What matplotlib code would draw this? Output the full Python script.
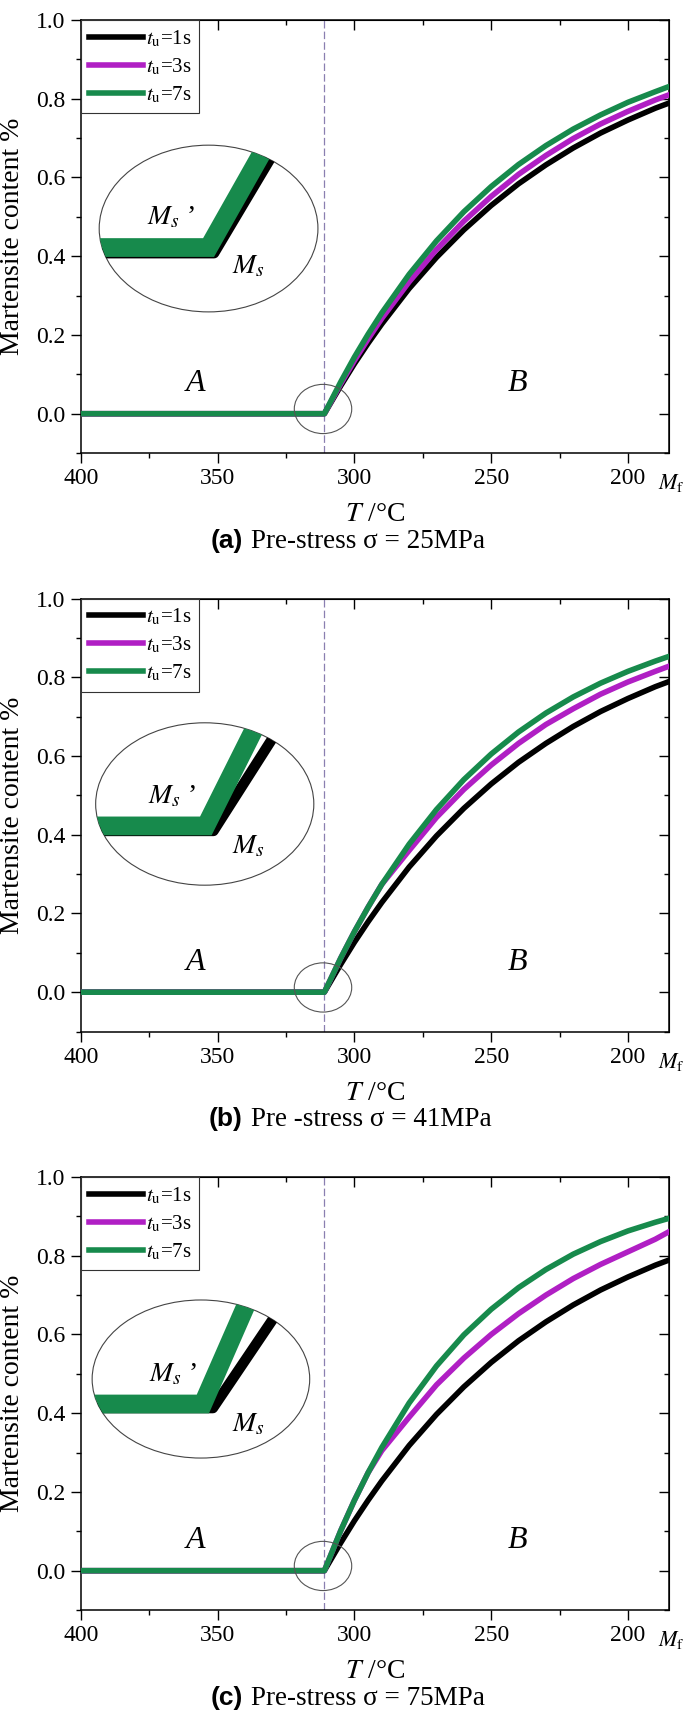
import numpy as np
import matplotlib
matplotlib.use("Agg")
import matplotlib.pyplot as plt
from matplotlib.patches import Ellipse
from matplotlib.ticker import MultipleLocator, FormatStrFormatter

plt.rcParams['font.family'] = 'serif'
plt.rcParams['font.serif'] = ['Liberation Serif', 'DejaVu Serif']
plt.rcParams['mathtext.fontset'] = 'stix'

# temperature grid (deg C) and martensite fraction
temps = [400, 311, 305, 300, 295, 290, 280, 270, 260, 250, 240, 230, 220, 210, 200, 190, 185]
ms_temp = 311

frac_1s = [0, 0, 0.071, 0.127, 0.179, 0.228, 0.318, 0.397, 0.467, 0.529, 0.584, 0.632, 0.675, 0.713, 0.746, 0.776, 0.789]
a_3s = [0, 0, 0.076, 0.135, 0.190, 0.242, 0.335, 0.417, 0.489, 0.552, 0.608, 0.656, 0.699, 0.736, 0.768, 0.797, 0.810]
a_7s = [0, 0, 0.081, 0.144, 0.202, 0.256, 0.354, 0.439, 0.513, 0.577, 0.633, 0.681, 0.723, 0.759, 0.791, 0.818, 0.831]
b_3s = [0, 0, 0.087, 0.154, 0.216, 0.274, 0.360, 0.444, 0.515, 0.577, 0.632, 0.680, 0.720, 0.757, 0.788, 0.815, 0.828]
b_7s = [0, 0, 0.087, 0.154, 0.216, 0.274, 0.376, 0.464, 0.540, 0.605, 0.661, 0.709, 0.750, 0.785, 0.815, 0.841, 0.853]
c_3s = [0, 0, 0.102, 0.179, 0.249, 0.305, 0.390, 0.472, 0.540, 0.600, 0.653, 0.700, 0.742, 0.778, 0.810, 0.842, 0.861]
c_7s = [0, 0, 0.102, 0.179, 0.249, 0.313, 0.426, 0.520, 0.599, 0.664, 0.719, 0.765, 0.804, 0.836, 0.863, 0.885, 0.895]

series_3s = [a_3s, b_3s, c_3s]
series_7s = [a_7s, b_7s, c_7s]
letters = ['(a)', '(b)', '(c)']
captions = ['Pre-stress σ = 25MPa', 'Pre -stress σ = 41MPa', 'Pre-stress σ = 75MPa']
labels = [r'$t_{\rm u}$=1s', r'$t_{\rm u}$=3s', r'$t_{\rm u}$=7s']

# schematic zoom of the Ms kink (fractions of the ellipse box)
inset_box = [[0.031, 0.326, 0.372, 0.385], [0.025, 0.338, 0.371, 0.375], [0.019, 0.351, 0.370, 0.365]]
inset_green_x = [[-0.05, 0.50, 0.786], [-0.05, 0.505, 0.76], [-0.05, 0.509, 0.734]]
inset_green_y = [[0.386, 0.386, 1.05], [0.365, 0.365, 1.05], [0.342, 0.342, 1.05]]
inset_black_x = [[-0.05, 0.525, 0.842], [-0.05, 0.54, 0.88], [-0.05, 0.555, 0.915]]
inset_black_y = [[0.352, 0.352, 1.05], [0.334, 0.334, 1.05], [0.316, 0.316, 1.05]]
ms_prime_pos = [[0.33, 0.563], [0.35, 0.545], [0.37, 0.53]]
ms_pos = [[0.68, 0.27], [0.70, 0.24], [0.716, 0.21]]

c_black = 'black'
c_mag = '#b01fc4'
c_green = '#178a4c'

fig = plt.figure(figsize=(6.85, 17.11), dpi=100)
bottoms = [0.7352, 0.3971, 0.0590]

for i in range(3):
    ax = fig.add_axes([0.1182, bottoms[i], 0.8584, 0.2531])
    ax.axvline(ms_temp, color='#8a7fb0', lw=0.9, ls=(0, (6, 2.5)), zorder=1)
    ax.plot(temps, frac_1s, color=c_black, lw=4, label=labels[0], zorder=3)
    ax.plot(temps, series_3s[i], color=c_mag, lw=4, label=labels[1], zorder=4)
    ax.plot(temps, series_7s[i], color=c_green, lw=4, label=labels[2], zorder=5)

    ax.set_xlim(400, 185)
    ax.set_ylim(-0.1, 1.0)
    ax.xaxis.set_major_locator(MultipleLocator(50))
    ax.xaxis.set_minor_locator(MultipleLocator(25))
    ax.yaxis.set_major_locator(MultipleLocator(0.2))
    ax.yaxis.set_minor_locator(MultipleLocator(0.1))
    ax.yaxis.set_major_formatter(FormatStrFormatter('%.1f'))
    ax.tick_params(which='both', direction='out', width=1.0, pad=4)
    ax.tick_params(which='major', length=7, labelsize=17)
    ax.tick_params(which='minor', length=3.5)
    for sp in ax.spines.values():
        sp.set_linewidth(1.1)

    # inward mirrored ticks on top and right
    secx = ax.secondary_xaxis('top')
    secx.xaxis.set_major_locator(MultipleLocator(50))
    secx.xaxis.set_minor_locator(MultipleLocator(25))
    secx.tick_params(which='both', direction='in', labeltop=False, width=1.0)
    secx.tick_params(which='major', length=7)
    secx.tick_params(which='minor', length=3.5)
    secy = ax.secondary_yaxis('right')
    secy.yaxis.set_major_locator(MultipleLocator(0.2))
    secy.yaxis.set_minor_locator(MultipleLocator(0.1))
    secy.tick_params(which='both', direction='in', labelright=False, width=1.0)
    secy.tick_params(which='major', length=7)
    secy.tick_params(which='minor', length=3.5)

    ax.text(-0.117, 0.5, 'Martensite content %', rotation=90, ha='center', va='center',
            fontsize=20, transform=ax.transAxes)
    ax.text(0.5, -0.157, r'$T$ /°C', ha='center', va='baseline', fontsize=20, transform=ax.transAxes)
    ax.text(0.981, -0.083, r'$M_{\rm f}$', ha='left', va='baseline', fontsize=16, transform=ax.transAxes)
    ax.text(0.2755, -0.219, letters[i], ha='right', va='baseline', fontsize=19,
            fontfamily='Liberation Sans', fontweight='bold', transform=ax.transAxes)
    ax.text(0.29, -0.219, captions[i], ha='left', va='baseline', fontsize=19.5, transform=ax.transAxes)

    ax.text(358, 0.076, 'A', style='italic', fontsize=23, ha='center', va='center')
    ax.text(240.5, 0.076, 'B', style='italic', fontsize=23, ha='center', va='center')

    ax.add_patch(Ellipse((311.5, 0.012), width=21, height=0.125, fill=False,
                         edgecolor='#555555', lw=0.8, zorder=6))

    leg = ax.legend(loc='upper left', borderaxespad=0, fancybox=False, edgecolor='#333333',
                    fontsize=15, handlelength=2.6, handletextpad=0.1, labelspacing=0.35,
                    borderpad=0.4, framealpha=1)
    leg.get_frame().set_linewidth(0.8)

    # schematic inset of the kink
    ins = ax.inset_axes(inset_box[i])
    ins.set_xlim(0, 1)
    ins.set_ylim(0, 1)
    ins.axis('off')
    ins.patch.set_alpha(0)
    clip = Ellipse((0.5, 0.5), 1, 1, transform=ins.transAxes, fill=False)
    ins.add_patch(clip)
    clip.set_visible(False)
    lb, = ins.plot(inset_black_x[i], inset_black_y[i], color=c_black, lw=7.5,
                   solid_joinstyle='round', solid_capstyle='butt')
    lg, = ins.plot(inset_green_x[i], inset_green_y[i], color=c_green, lw=13.5,
                   solid_joinstyle='miter', solid_capstyle='butt')
    lb.set_clip_path(clip)
    lg.set_clip_path(clip)
    ins.add_patch(Ellipse((0.5, 0.5), 1, 1, transform=ins.transAxes, fill=False,
                          edgecolor='#444444', lw=0.8, clip_on=False))
    ins.text(ms_prime_pos[i][0], ms_prime_pos[i][1], r'$M_s$ ’', fontsize=20,
             ha='center', va='center', transform=ins.transAxes)
    ins.text(ms_pos[i][0], ms_pos[i][1], r'$M_s$', fontsize=20,
             ha='center', va='center', transform=ins.transAxes)

fig.savefig('out.png', dpi=100)
